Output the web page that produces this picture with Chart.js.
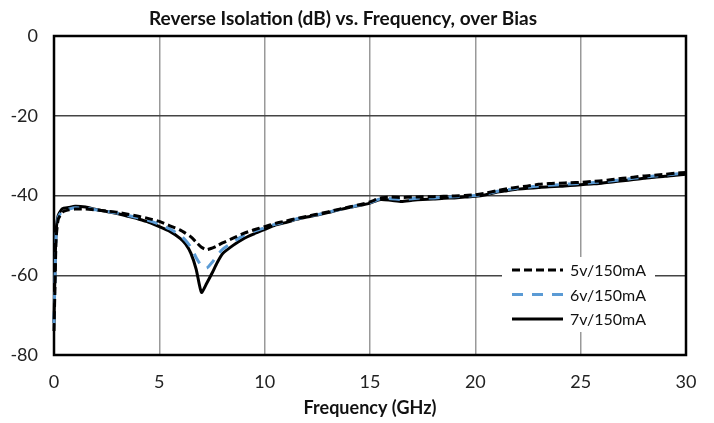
<!DOCTYPE html>
<html>
<head>
<meta charset="utf-8">
<script src="https://cdn.jsdelivr.net/npm/chart.js@4/dist/chart.umd.min.js"></script>
<style>
  html, body { margin: 0; padding: 0; background: #fff; }
  #wrap { width: 714px; height: 423px; }
</style>
</head>
<body>
<div id="wrap"><canvas id="chart" width="714" height="423"></canvas></div>
<script>
const freqGHz = [0, 0.05, 0.1, 0.2, 0.4, 0.7, 1.0, 1.5, 2, 2.5, 3, 3.5, 4, 4.5, 5, 5.5, 6, 6.25, 6.5, 6.75, 7, 7.25, 7.5, 7.75, 8, 8.5, 9, 9.5, 10, 10.5, 11, 11.5, 12, 12.5, 13, 13.5, 14, 14.5, 15, 15.5, 16, 16.5, 17, 17.5, 18, 18.5, 19, 19.5, 20, 20.5, 21, 21.5, 22, 22.5, 23, 23.5, 24, 24.5, 25, 25.5, 26, 26.5, 27, 27.5, 28, 28.5, 29, 29.5, 30];

const iso5v = [-74, -62, -51, -46, -44.2, -43.6, -43.4, -43.4, -43.6, -43.9, -44.2, -44.7, -45.2, -45.8, -46.5, -47.6, -48.7, -49.5, -50.4, -51.7, -53.0, -53.6, -53.2, -52.6, -51.9, -50.7, -49.5, -48.6, -47.8, -47.0, -46.4, -45.8, -45.2, -44.7, -44.1, -43.5, -42.9, -42.3, -41.6, -40.6, -40.4, -40.5, -40.4, -40.3, -40.3, -40.2, -40.1, -40.0, -39.8, -39.4, -38.8, -38.3, -37.9, -37.6, -37.2, -37.0, -36.9, -36.8, -36.7, -36.5, -36.3, -36.0, -35.7, -35.4, -35.1, -34.9, -34.7, -34.4, -34.2];

const iso6v = [-72, -60, -50, -45.5, -43.8, -43.4, -43.1, -43.2, -43.6, -44.0, -44.4, -45.0, -45.6, -46.3, -47.2, -48.4, -50.0, -51.3, -53.0, -55.6, -57.6, -58.2, -56.8, -55.0, -53.5, -51.7, -50.0, -49.0, -48.1, -47.2, -46.6, -45.9, -45.3, -44.8, -44.2, -43.6, -43.0, -42.4, -41.8, -40.8, -40.8, -41.0, -40.8, -40.6, -40.6, -40.4, -40.3, -40.2, -40.0, -39.6, -39.0, -38.6, -38.1, -37.9, -37.6, -37.4, -37.3, -37.1, -37.0, -36.8, -36.6, -36.3, -36.0, -35.7, -35.4, -35.1, -34.9, -34.6, -34.4];

const iso7v = [-72, -58, -49, -45, -43.3, -43.0, -42.7, -42.9, -43.5, -44.0, -44.5, -45.2, -45.9, -46.7, -47.8, -49.0, -50.8, -52.2, -54.5, -58.5, -64.3, -62.0, -59.5, -56.8, -54.6, -52.5, -50.8, -49.6, -48.5, -47.4, -46.8, -46.0, -45.4, -44.9, -44.3, -43.6, -43.0, -42.5, -41.9, -41.0, -41.2, -41.5, -41.2, -41.0, -40.9, -40.7, -40.6, -40.4, -40.2, -39.8, -39.2, -38.8, -38.4, -38.2, -38.0, -37.8, -37.7, -37.5, -37.3, -37.1, -36.9, -36.6, -36.3, -36.0, -35.7, -35.4, -35.2, -34.9, -34.7];

const seriesLabels = ['5v/150mA', '6v/150mA', '7v/150mA'];

const FONT = 'Lato, "Open Sans", sans-serif';

function toPoints(vals) {
  return freqGHz.map((f, i) => ({ x: f, y: vals[i] }));
}

// black frame round the plot area
const framePlugin = {
  id: 'frame',
  beforeDatasetsDraw(chart) {
    const { ctx, chartArea: a } = chart;
    ctx.save();
    ctx.strokeStyle = '#000';
    ctx.lineWidth = 2.5;
    ctx.strokeRect(a.left, a.top, a.right - a.left, a.bottom - a.top);
    ctx.restore();
  }
};

// legend box inside the plot, lower right
const boxLegend = {
  id: 'boxLegend',
  afterDatasetsDraw(chart) {
    const { ctx, chartArea: a } = chart;
    const bx = a.right - 184, by = a.bottom - 98, bw = 153, bh = 75;
    ctx.save();
    ctx.fillStyle = '#fff';
    ctx.fillRect(bx, by, bw, bh);
    ctx.font = '16px ' + FONT;
    ctx.textBaseline = 'middle';
    chart.data.datasets.forEach((ds, i) => {
      const y = by + 13 + i * 24.5;
      ctx.beginPath();
      ctx.strokeStyle = ds.borderColor;
      ctx.lineWidth = ds.borderWidth;
      ctx.setLineDash(ds.borderDash || []);
      ctx.moveTo(bx + 10, y);
      ctx.lineTo(bx + 61, y);
      ctx.stroke();
      ctx.setLineDash([]);
      ctx.fillStyle = '#111';
      ctx.fillText(ds.label, bx + 68, y + 1);
    });
    ctx.restore();
  }
};

new Chart(document.getElementById('chart').getContext('2d'), {
  type: 'line',
  data: {
    datasets: [
      { label: seriesLabels[0], data: toPoints(iso5v), borderColor: '#000', borderWidth: 3, borderDash: [8, 4] },
      { label: seriesLabels[1], data: toPoints(iso6v), borderColor: '#5b9bd5', borderWidth: 3, borderDash: [11, 9] },
      { label: seriesLabels[2], data: toPoints(iso7v), borderColor: '#000', borderWidth: 3 }
    ].map(ds => Object.assign(ds, { pointRadius: 0, tension: 0.2, fill: false, clip: 4 }))
  },
  options: {
    responsive: false,
    animation: false,
    layout: { padding: { left: 0, right: 28, top: 0, bottom: 0 } },
    plugins: {
      legend: { display: false },
      tooltip: { enabled: false },
      title: {
        display: true,
        text: 'Reverse Isolation (dB) vs. Frequency, over Bias',
        color: '#111',
        font: { family: FONT, size: 19, weight: 'bold' },
        padding: { top: 7, bottom: 6.2 }
      }
    },
    scales: {
      x: {
        type: 'linear',
        min: 0,
        max: 30,
        ticks: { stepSize: 5, color: '#222', font: { family: FONT, size: 18 }, padding: 16, maxRotation: 0 },
        grid: { color: '#999', lineWidth: 1.5, drawTicks: false },
        border: { display: false },
        title: {
          display: true,
          text: 'Frequency (GHz)',
          color: '#111',
          font: { family: FONT, size: 18, weight: 'bold' },
          padding: { top: 0, bottom: 4 }
        },
        afterFit(scale) { scale.height = 68; }
      },
      y: {
        min: -80,
        max: 0,
        ticks: { stepSize: 20, color: '#222', font: { family: FONT, size: 18 }, padding: 16 },
        grid: { color: '#444', lineWidth: 1.5, drawTicks: false },
        border: { display: false },
        afterFit(scale) { scale.width = 54; }
      }
    }
  },
  plugins: [framePlugin, boxLegend]
});
</script>
</body>
</html>
